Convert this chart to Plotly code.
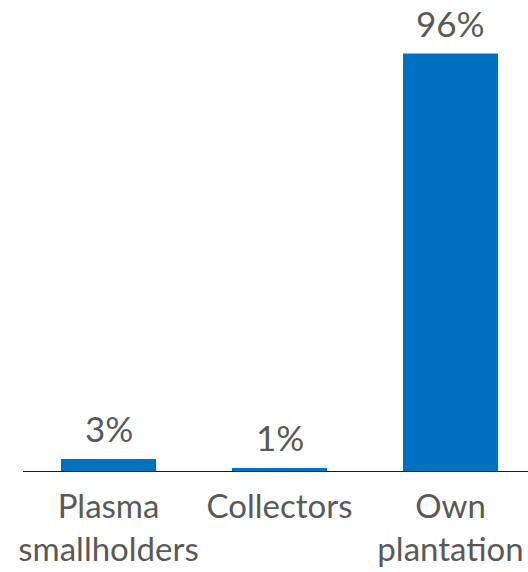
import plotly.graph_objects as go

categories = ["Plasma<br>smallholders", "Collectors", "Own<br>plantation"]
shares = [2.8, 0.7, 96.4]
labels = ["3%", "1%", "96%"]

bar_color = "#0070C0"
text_color = "#595959"
font_family = "Lato, 'Open Sans', sans-serif"

fig = go.Figure()
fig.add_trace(go.Bar(
    x=[0, 1, 2],
    y=shares,
    marker=dict(color=bar_color, line=dict(width=0)),
    hoverinfo="skip",
    cliponaxis=False,
))

for i, (v, t) in enumerate(zip(shares, labels)):
    fig.add_annotation(
        x=i, y=v, text=t, showarrow=False,
        yanchor="bottom", yshift=8,
        font=dict(family=font_family, size=35, color=text_color),
    )

fig.update_layout(
    width=528, height=572,
    margin=dict(l=23, r=0, t=38, b=101),
    paper_bgcolor="white", plot_bgcolor="white",
    bargap=0.444,
    showlegend=False,
    font=dict(family=font_family, size=33, color=text_color),
)
fig.update_xaxes(
    range=[-0.5, 2.453],
    tickmode="array", tickvals=[0, 1, 2], ticktext=categories,
    showline=True, linecolor="#1a1a1a", linewidth=1.3,
    showgrid=False, zeroline=False, ticks="",
    ticklabelstandoff=6,
    tickfont=dict(family=font_family, size=33, color=text_color),
)
fig.update_yaxes(
    range=[0, 100], visible=False, showgrid=False, zeroline=False,
)

fig.write_html("out.html")
